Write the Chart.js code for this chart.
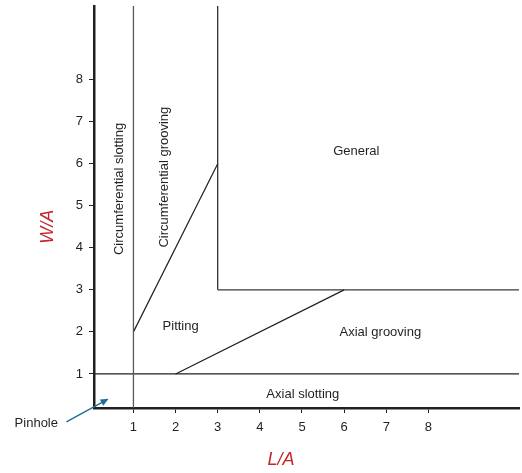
<!DOCTYPE html>
<html>
<head>
<meta charset="utf-8">
<script src="https://cdn.jsdelivr.net/npm/chart.js@4/dist/chart.umd.min.js"></script>
<style>
  html, body { margin: 0; padding: 0; background: #fff; }
  #wrap { width: 522px; height: 473px; position: relative; }
</style>
</head>
<body>
<div id="wrap"><canvas id="c" width="522" height="473"></canvas></div>
<script>
// Axis ranges (normalised length L/A and width W/A)
const X_MIN = 0.064, X_MAX = 10.15;
const Y_MIN = 0.19,  Y_MAX = 9.75;
const xTicks = [1, 2, 3, 4, 5, 6, 7, 8];
const yTicks = [1, 2, 3, 4, 5, 6, 7, 8];

// Region boundaries of the defect-classification map
const circSlotLimitX = [1, 1];         const circSlotLimitY = [Y_MIN, Y_MAX];
const axialSlotLimitX = [X_MIN, X_MAX]; const axialSlotLimitY = [1, 1];
const circGrooveX = [1, 3];            const circGrooveY = [2, 6];
const axialGrooveX = [2, 6];           const axialGrooveY = [1, 3];
const generalVertX = [3, 3];           const generalVertY = [3, Y_MAX];
const generalHorzX = [3, X_MAX];       const generalHorzY = [3, 3];

// Region names
const regionNames = ['General', 'Pitting', 'Axial grooving', 'Axial slotting',
                     'Circumferential slotting', 'Circumferential grooving'];

const FONT = '"Liberation Sans", Arial, Helvetica, sans-serif';
const INK = '#231f20';
const TITLE_RED = '#c1272d';
const ARROW = '#1f6e94';

function seg(xs, ys, color, width) {
  return {
    data: xs.map((x, i) => ({ x: x, y: ys[i] })),
    showLine: true, borderColor: color, borderWidth: width,
    pointRadius: 0, pointHoverRadius: 0, fill: false, clip: false
  };
}

// label layout: [text, x, y, rotated]
const labelLayout = [
  [regionNames[0], 6.29, 6.29, false],
  [regionNames[1], 2.12, 2.13, false],
  [regionNames[2], 6.86, 1.98, false],
  [regionNames[3], 5.02, 0.51, false],
  [regionNames[4], 0.67, 5.40, true],
  [regionNames[5], 1.73, 5.68, true]
];

const annotations = {
  id: 'annotations',
  afterDatasetsDraw(chart) {
    const { ctx, scales: { x, y } } = chart;
    const px = v => x.getPixelForValue(v);
    const py = v => y.getPixelForValue(v);
    ctx.save();
    ctx.fillStyle = INK;
    ctx.font = '13px ' + FONT;
    ctx.textAlign = 'center';
    ctx.textBaseline = 'middle';
    labelLayout.forEach(([t, lx, ly, rot]) => {
      ctx.save();
      ctx.translate(px(lx), py(ly));
      if (rot) ctx.rotate(-Math.PI / 2);
      ctx.fillText(t, 0, 0);
      ctx.restore();
    });

    // Pinhole label and arrow
    ctx.textAlign = 'left';
    ctx.fillText('Pinhole', px(-1.82), py(-0.17));
    const x0 = px(-0.59), y0 = py(-0.14), x1 = px(0.41), y1 = py(0.41);
    const ang = Math.atan2(y1 - y0, x1 - x0);
    const hl = 8, hw = 3.5;
    ctx.strokeStyle = ARROW;
    ctx.fillStyle = ARROW;
    ctx.lineWidth = 1.4;
    ctx.beginPath();
    ctx.moveTo(x0, y0);
    ctx.lineTo(x1 - hl * Math.cos(ang) * 0.8, y1 - hl * Math.sin(ang) * 0.8);
    ctx.stroke();
    ctx.beginPath();
    ctx.moveTo(x1, y1);
    ctx.lineTo(x1 - hl * Math.cos(ang) + hw * Math.sin(ang), y1 - hl * Math.sin(ang) - hw * Math.cos(ang));
    ctx.lineTo(x1 - hl * Math.cos(ang) - hw * Math.sin(ang), y1 - hl * Math.sin(ang) + hw * Math.cos(ang));
    ctx.closePath();
    ctx.fill();

    // Axis titles
    ctx.fillStyle = TITLE_RED;
    ctx.font = 'italic 18px ' + FONT;
    ctx.textAlign = 'center';
    ctx.fillText('L/A', px(4.50), py(-1.05));
    ctx.save();
    ctx.translate(px(-1.02), py(4.5));
    ctx.rotate(-Math.PI / 2);
    ctx.fillText('W/A', 0, 0);
    ctx.restore();
    ctx.restore();
  }
};

const fixedTicks = vals => scale => { scale.ticks = vals.map(v => ({ value: v })); };

new Chart(document.getElementById('c'), {
  type: 'scatter',
  data: {
    datasets: [
      seg(circSlotLimitX, circSlotLimitY, '#58595b', 1.3),
      seg(axialSlotLimitX, axialSlotLimitY, INK, 1.2),
      seg(circGrooveX, circGrooveY, INK, 1.2),
      seg(axialGrooveX, axialGrooveY, INK, 1.2),
      seg(generalVertX, generalVertY, INK, 1.2),
      seg(generalHorzX, generalHorzY, '#3a3a3a', 1.2)
    ]
  },
  options: {
    responsive: false,
    animation: false,
    events: [],
    layout: { padding: { top: 6, right: 3, left: 0, bottom: 0 } },
    plugins: { legend: { display: false }, tooltip: { enabled: false } },
    scales: {
      x: {
        type: 'linear', min: X_MIN, max: X_MAX,
        afterBuildTicks: fixedTicks(xTicks),
        afterFit: s => { s.height = 65; s.paddingLeft = 0; s.paddingRight = 0; },
        border: { display: true, color: INK, width: 2.5 },
        grid: { display: true, drawOnChartArea: false, drawTicks: true, tickLength: 5, color: INK, lineWidth: 1 },
        ticks: { color: INK, font: { family: FONT, size: 13 }, padding: 7, maxRotation: 0 }
      },
      y: {
        type: 'linear', min: Y_MIN, max: Y_MAX,
        afterBuildTicks: fixedTicks(yTicks),
        afterFit: s => { s.width = 94; s.paddingTop = 0; s.paddingBottom = 0; },
        border: { display: true, color: INK, width: 2.5 },
        grid: { display: true, drawOnChartArea: false, drawTicks: true, tickLength: 5, color: INK, lineWidth: 1 },
        ticks: { color: INK, font: { family: FONT, size: 13 }, padding: 6 }
      }
    }
  },
  plugins: [annotations]
});
</script>
</body>
</html>
